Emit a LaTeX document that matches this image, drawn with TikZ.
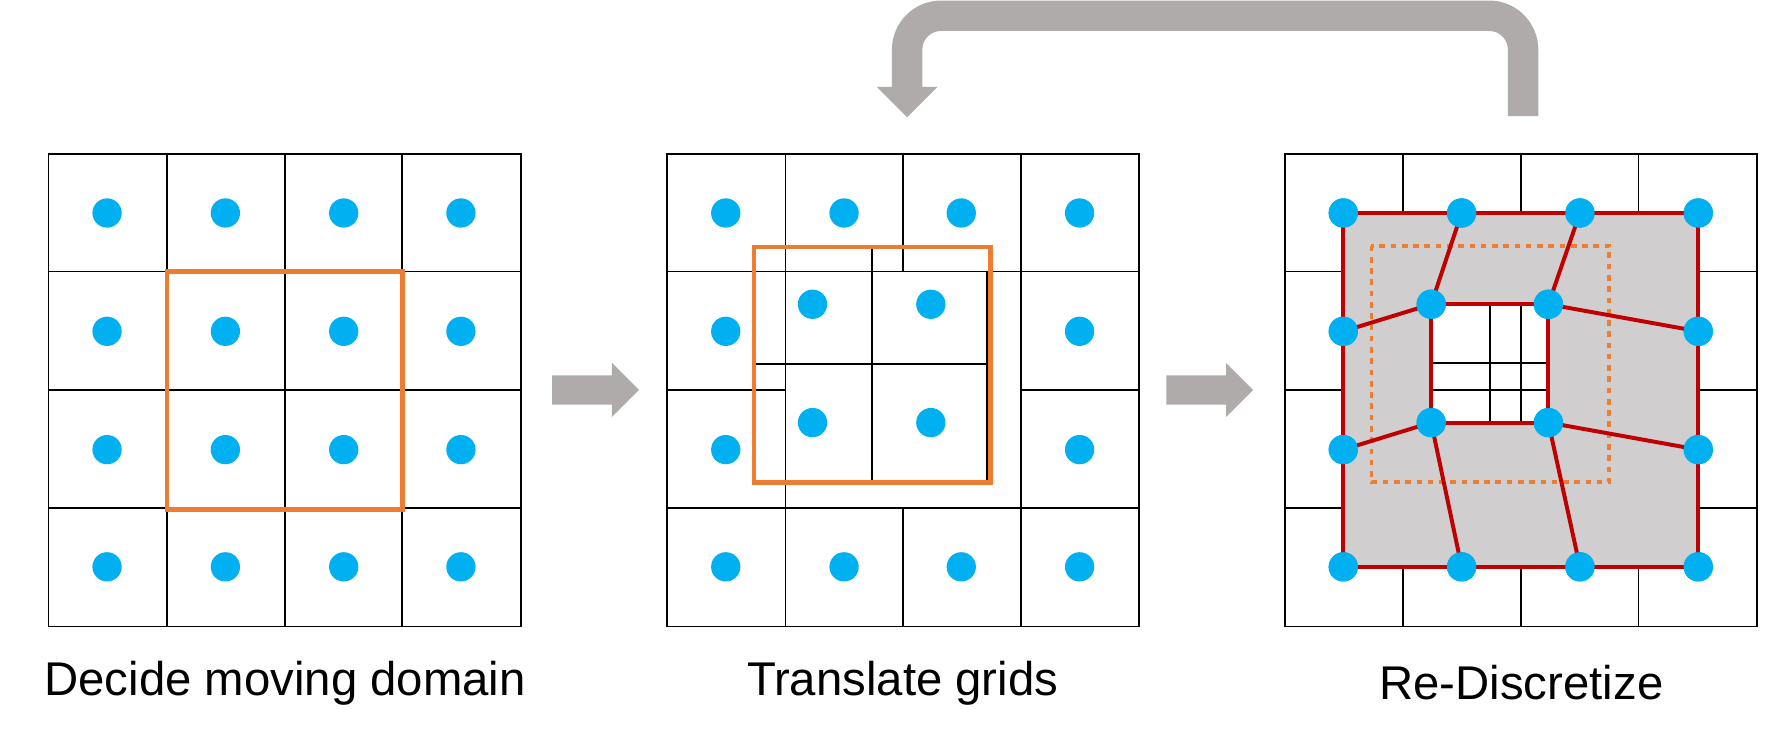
\documentclass[tikz,border=0pt]{standalone}
\usepackage{fontspec}
\setmainfont{Liberation Sans}
\definecolor{dotblue}{HTML}{00B0F0}
\definecolor{dorange}{HTML}{ED7D31}
\definecolor{dred}{HTML}{C00000}
\definecolor{agray}{HTML}{AFABAB}
\definecolor{fgray}{HTML}{D0CECE}
\begin{document}
\begin{tikzpicture}[x=1pt,y=-1pt,
  dot/.style={circle,fill=dotblue,inner sep=0pt,minimum size=26pt},
  gridl/.style={black,line width=1.6pt},
  orng/.style={dorange,line width=4pt},
  redl/.style={dred,line width=3.5pt},
  lbl/.style={font=\fontsize{42}{48}\selectfont},
  garrow/.style={fill=agray}]
\useasboundingbox (0,0) rectangle (1568,660);
% panel 1
\draw[gridl] (43,137) rectangle (462,556);
\foreach \x in {148,253,357} \draw[gridl] (\x,137) -- (\x,556);
\foreach \y in {241,346,451} \draw[gridl] (43,\y) -- (462,\y);
\foreach \x in {95,200,305,409} \foreach \y in {189,294,399,503} \node[dot] at (\x,\y) {};
\draw[orng] (148,241) rectangle (357,452);
\node[lbl] (l1) at (253,606) {Decide moving domain};
% arrows
\fill[garrow] (490,333) -- (543,333) -- (543,322) -- (567,346) -- (543,370) -- (543,359) -- (490,359) -- cycle;
\fill[garrow] (1035,333) -- (1088,333) -- (1088,322) -- (1112,346) -- (1088,370) -- (1088,359) -- (1035,359) -- cycle;
% panel 2
\draw[gridl] (592,137) rectangle (1011,556);
\draw[gridl] (697,137) -- (697,556);
\draw[gridl] (906,137) -- (906,556);
\draw[gridl] (801,137) -- (801,241);
\draw[gridl] (801,451) -- (801,556);
\draw[gridl] (592,241) -- (1011,241);
\draw[gridl] (592,451) -- (1011,451);
\draw[gridl] (592,346) -- (697,346);
\draw[gridl] (906,346) -- (1011,346);
\draw[gridl] (774,219) -- (774,428);
\draw[gridl] (669,323) -- (876,323);
\draw[gridl] (876,241) -- (876,428);
\foreach \x in {644,749,853,958} \foreach \y in {189,503} \node[dot] at (\x,\y) {};
\foreach \x in {644,958} \foreach \y in {294,399} \node[dot] at (\x,\y) {};
\foreach \x in {721,826} \foreach \y in {270,375} \node[dot] at (\x,\y) {};
\draw[orng] (669,219) rectangle (879,428);
\node[lbl] (l2) at (801,606) {Translate grids};
% panel 3
\draw[gridl] (1140,137) rectangle (1559,556);
\foreach \x in {1245,1350,1454} \draw[gridl] (\x,137) -- (\x,556);
\foreach \y in {241,346,451} \draw[gridl] (1140,\y) -- (1559,\y);
\fill[fgray,even odd rule] (1192,189) rectangle (1507,503) (1270,270) rectangle (1374,375);
\draw[gridl] (1322,270) -- (1322,375);
\draw[gridl] (1270,322) -- (1374,322);
\draw[orng,line width=3.5pt,dash pattern=on 5pt off 5pt] (1217,218) rectangle (1428,428);
\node[dot] (a1) at (1192,189) {}; \node[dot] (a2) at (1297,189) {};
\node[dot] (a3) at (1402,189) {}; \node[dot] (a4) at (1507,189) {};
\node[dot] (b1) at (1192,294) {}; \node[dot] (b4) at (1507,294) {};
\node[dot] (c1) at (1192,399) {}; \node[dot] (c4) at (1507,399) {};
\node[dot] (d1) at (1192,503) {}; \node[dot] (d2) at (1297,503) {};
\node[dot] (d3) at (1402,503) {}; \node[dot] (d4) at (1507,503) {};
\node[dot] (i1) at (1270,270) {}; \node[dot] (i2) at (1374,270) {};
\node[dot] (i3) at (1270,375) {}; \node[dot] (i4) at (1374,375) {};
\begin{scope}[on background layer/.style={}]
\draw[redl] (a1.center) -- (a4.center) -- (d4.center) -- (d1.center) -- cycle;
\draw[redl] (i1.center) -- (i2.center) -- (i4.center) -- (i3.center) -- cycle;
\draw[redl] (a2.center) -- (i1.center) -- (b1.center);
\draw[redl] (a3.center) -- (i2.center) -- (b4.center);
\draw[redl] (c1.center) -- (i3.center) -- (d2.center);
\draw[redl] (c4.center) -- (i4.center) -- (d3.center);
\end{scope}
\foreach \n in {a1,a2,a3,a4,b1,b4,c1,c4,d1,d2,d3,d4,i1,i2,i3,i4} \node[dot] at (\n) {};
\node[lbl] (l3) at (1350,606) {Re-Discretize};
% feedback arrow
\coordinate (fs) at (1351.5,103);
\coordinate (fe) at (805,78);
\draw[agray,line width=27pt,rounded corners=30pt] (fs) -- (1351.5,14) -- (805,14) -- (fe);
\fill[garrow] (778,77) -- (832,77) -- (805,104) -- cycle;
\end{tikzpicture}
\end{document}
